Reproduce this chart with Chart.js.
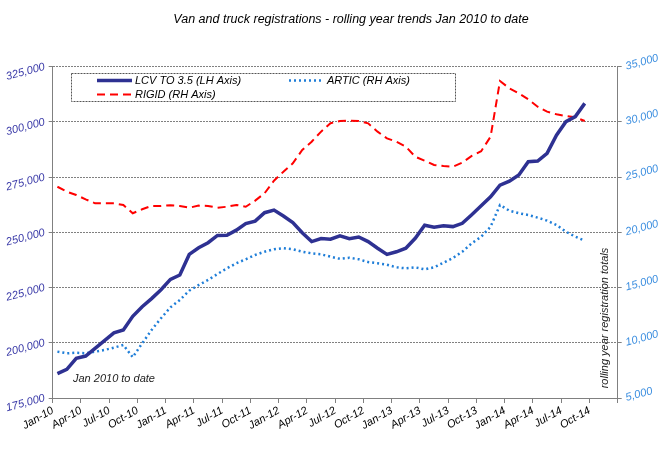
<!DOCTYPE html>
<html>
<head>
<meta charset="utf-8">
<script src="https://cdn.jsdelivr.net/npm/chart.js@4.4.0/dist/chart.umd.min.js"></script>
<style>
    html, body { margin: 0; padding: 0; background: #fff; }
    #chart { display: block; }
</style>
</head>
<body>
<canvas id="chart" width="663" height="475"></canvas>
<script>
// Monthly data, Jan 2010 to Sep 2014
const months = [
    'Jan-10', 'Feb-10', 'Mar-10', 'Apr-10', 'May-10', 'Jun-10', 'Jul-10', 'Aug-10', 'Sep-10', 'Oct-10', 'Nov-10', 'Dec-10',
    'Jan-11', 'Feb-11', 'Mar-11', 'Apr-11', 'May-11', 'Jun-11', 'Jul-11', 'Aug-11', 'Sep-11', 'Oct-11', 'Nov-11', 'Dec-11',
    'Jan-12', 'Feb-12', 'Mar-12', 'Apr-12', 'May-12', 'Jun-12', 'Jul-12', 'Aug-12', 'Sep-12', 'Oct-12', 'Nov-12', 'Dec-12',
    'Jan-13', 'Feb-13', 'Mar-13', 'Apr-13', 'May-13', 'Jun-13', 'Jul-13', 'Aug-13', 'Sep-13', 'Oct-13', 'Nov-13', 'Dec-13',
    'Jan-14', 'Feb-14', 'Mar-14', 'Apr-14', 'May-14', 'Jun-14', 'Jul-14', 'Aug-14', 'Sep-14'
];

const lcv = [
    186000, 188000, 193000, 194000, 197500, 201000, 204500, 205800, 212000, 216300, 220000, 224000,
    228700, 230700, 240000, 243000, 245300, 248600, 248700, 251000, 254000, 255100, 258900, 260100,
    257400, 254400, 249800, 245800, 247200, 246900, 248400, 247100, 247900, 245800, 242800, 240000,
    241200, 242800, 247300, 253200, 252300, 253000, 252600, 254100, 258000, 262000, 266100, 271400,
    273200, 276000, 282000, 282300, 285800, 294000, 300100, 302400, 308400
];

const artic = [
    9200, 9050, 9100, 9050, 9190, 9350, 9560, 9800, 8690, 9950, 11160, 12220,
    13210, 13870, 14720, 15230, 15690, 16230, 16740, 17200, 17560, 17950, 18250, 18470,
    18560, 18470, 18250, 18100, 18010, 17800, 17600, 17700, 17560, 17310, 17200, 17070,
    16830, 16740, 16830, 16650, 16830, 17250, 17680, 18250, 19010, 19600, 20510, 22480,
    21960, 21730, 21570, 21330, 21060, 20670, 20060, 19610, 19240
];

const rigid = [
    24130, 23680, 23380, 22990, 22630, 22630, 22630, 22480, 21730, 22090, 22390, 22390,
    22450, 22390, 22230, 22420, 22390, 22230, 22320, 22480, 22320, 22870, 23540, 24680,
    25490, 26250, 27460, 28210, 29120, 29880, 30080, 30110, 30080, 29870, 29120, 28510,
    28210, 27760, 26850, 26490, 26100, 26010, 25950, 26310, 26920, 27350, 28660, 33700,
    33040, 32590, 32050, 31380, 30930, 30690, 30540, 30420, 30080
];

// Quarterly tick labels on the date axis
const tickLabels = [
    'Jan-10', 'Apr-10', 'Jul-10', 'Oct-10', 'Jan-11', 'Apr-11', 'Jul-11', 'Oct-11',
    'Jan-12', 'Apr-12', 'Jul-12', 'Oct-12', 'Jan-13', 'Apr-13', 'Jul-13', 'Oct-13',
    'Jan-14', 'Apr-14', 'Jul-14', 'Oct-14'
];

const FONT = '"Liberation Sans", Arial, sans-serif';
const LCV_COLOR = '#2E3192';
const ARTIC_COLOR = '#1F7ED8';
const RIGID_COLOR = '#FF0000';

// each month sits in the middle of its slot on the date axis
const toPoints = arr => arr.map((v, i) => ({ x: i + 0.5, y: v }));

// Title, legend box, annotation and rotated right-axis title
const extrasPlugin = {
    id: 'extras',
    afterDraw(chart) {
        const ctx = chart.ctx;
        ctx.save();

        // title
        ctx.fillStyle = '#000';
        ctx.font = 'italic 12.5px ' + FONT;
        ctx.textAlign = 'center';
        ctx.textBaseline = 'middle';
        ctx.fillText('Van and truck registrations - rolling year trends Jan 2010 to date', 351, 20);

        // legend box
        ctx.strokeStyle = '#555';
        ctx.lineWidth = 1;
        ctx.setLineDash([2, 1]);
        ctx.strokeRect(71.5, 73.5, 384, 28);

        const sample = (x1, x2, y, color, width, dash) => {
            ctx.beginPath();
            ctx.strokeStyle = color;
            ctx.lineWidth = width;
            ctx.setLineDash(dash);
            ctx.moveTo(x1, y);
            ctx.lineTo(x2, y);
            ctx.stroke();
        };
        sample(97, 132, 80.5, LCV_COLOR, 3.5, []);
        sample(289, 323, 80.5, ARTIC_COLOR, 2.5, [2, 3]);
        sample(97, 132, 94.5, RIGID_COLOR, 2, [8, 5]);

        ctx.setLineDash([]);
        ctx.fillStyle = '#000';
        ctx.font = 'italic 11px ' + FONT;
        ctx.textAlign = 'left';
        ctx.fillText('LCV TO 3.5 (LH Axis)', 135, 80.5);
        ctx.fillText('ARTIC (RH Axis)', 327, 80.5);
        ctx.fillText('RIGID (RH Axis)', 135, 94.5);

        // annotation inside the plot
        ctx.fillStyle = '#222';
        ctx.fillText('Jan 2010 to date', 73, 379);

        // right axis title, vertical inside the plot
        ctx.translate(605, 318);
        ctx.rotate(-Math.PI / 2);
        ctx.textAlign = 'center';
        ctx.fillText('rolling year registration totals', 0, 0);

        ctx.restore();
    }
};

document.addEventListener('DOMContentLoaded', () => {
    const ctx = document.getElementById('chart').getContext('2d');
    new Chart(ctx, {
        type: 'line',
        data: {
            datasets: [{
                label: 'LCV TO 3.5 (LH Axis)',
                data: toPoints(lcv),
                yAxisID: 'y',
                borderColor: LCV_COLOR,
                borderWidth: 3.5,
                pointRadius: 0,
                tension: 0
            }, {
                label: 'ARTIC (RH Axis)',
                data: toPoints(artic),
                yAxisID: 'y1',
                borderColor: ARTIC_COLOR,
                borderWidth: 2.5,
                borderDash: [2, 3],
                pointRadius: 0,
                tension: 0
            }, {
                label: 'RIGID (RH Axis)',
                data: toPoints(rigid),
                yAxisID: 'y1',
                borderColor: RIGID_COLOR,
                borderWidth: 2,
                borderDash: [8, 5],
                pointRadius: 0,
                tension: 0
            }]
        },
        options: {
            responsive: false,
            animation: false,
            devicePixelRatio: 1,
            layout: { padding: { top: 66.7, left: 0, right: 0, bottom: 0 } },
            plugins: {
                legend: { display: false },
                tooltip: { enabled: false }
            },
            scales: {
                x: {
                    type: 'linear',
                    min: 0,
                    max: 60,
                    afterFit: scale => { scale.height = 77; },
                    ticks: {
                        stepSize: 3,
                        autoSkip: false,
                        maxRotation: 30,
                        minRotation: 30,
                        padding: 1,
                        color: '#000',
                        font: { family: FONT, size: 11, style: 'italic' },
                        callback: v => tickLabels[v / 3] || ''
                    },
                    grid: {
                        drawOnChartArea: false,
                        tickLength: 5,
                        color: '#808080'
                    },
                    border: { color: '#808080' }
                },
                y: {
                    position: 'left',
                    min: 175000,
                    max: 325000,
                    afterFit: scale => { scale.width = 52.7; },
                    ticks: {
                        stepSize: 25000,
                        padding: 4,
                        minRotation: 15,
                        maxRotation: 15,
                        color: '#3A3AA8',
                        font: { family: FONT, size: 11, style: 'italic' },
                        callback: v => v.toLocaleString('en-US')
                    },
                    grid: {
                        color: '#808080',
                        tickLength: 4
                    },
                    border: { color: '#808080', dash: [2, 1] }
                },
                y1: {
                    position: 'right',
                    min: 5000,
                    max: 35000,
                    afterFit: scale => { scale.width = 45.3; },
                    ticks: {
                        stepSize: 5000,
                        padding: 4,
                        minRotation: 15,
                        maxRotation: 15,
                        color: '#3D8FE0',
                        font: { family: FONT, size: 11, style: 'italic' },
                        callback: v => v.toLocaleString('en-US')
                    },
                    grid: {
                        drawOnChartArea: false,
                        color: '#808080',
                        tickLength: 4
                    },
                    border: { color: '#808080' }
                }
            }
        },
        plugins: [extrasPlugin]
    });
});
</script>
</body>
</html>
